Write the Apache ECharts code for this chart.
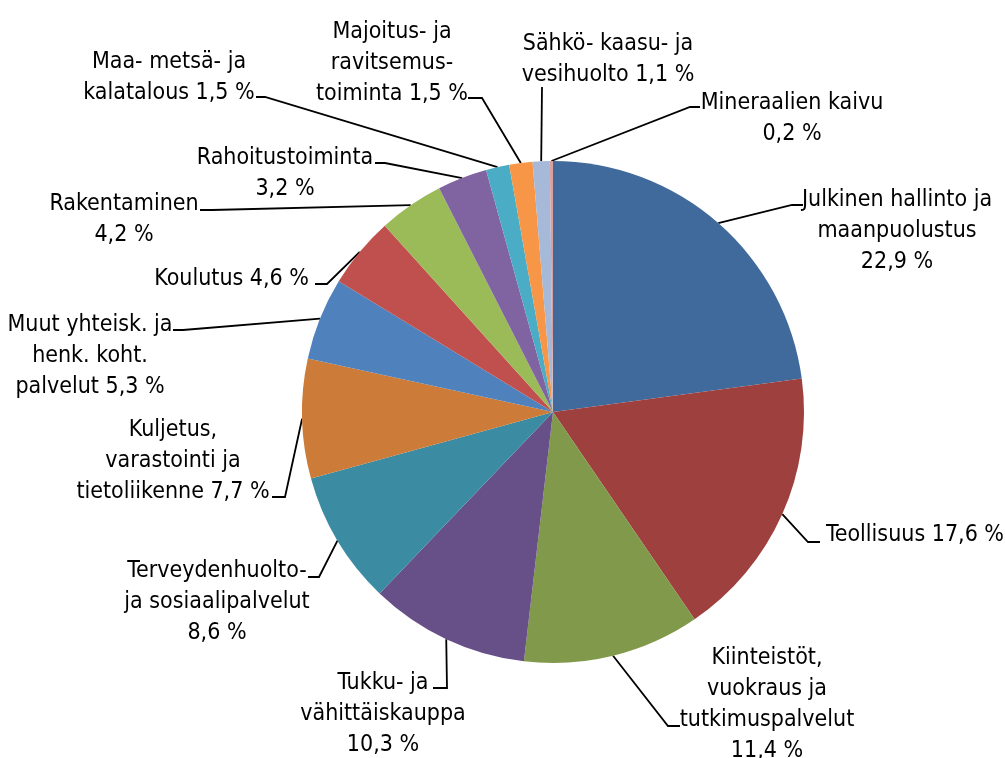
<!DOCTYPE html>
<html>
<head>
<meta charset="utf-8">
<style>
  html, body { margin: 0; padding: 0; background: #fff; }
  #chart { width: 1005px; height: 758px; }
</style>
<script src="https://cdn.jsdelivr.net/npm/echarts@6/dist/echarts.min.js"></script>
</head>
<body>
<div id="chart"></div>
<script>
// toimialat, osuus prosentteina
var categories = ['Julkinen hallinto ja\nmaanpuolustus', 'Teollisuus', 'Kiinteistöt,\nvuokraus ja\ntutkimuspalvelut',
    'Tukku- ja\nvähittäiskauppa', 'Terveydenhuolto-\nja sosiaalipalvelut', 'Kuljetus,\nvarastointi ja\ntietoliikenne',
    'Muut yhteisk. ja\nhenk. koht.\npalvelut', 'Koulutus', 'Rakentaminen', 'Rahoitustoiminta',
    'Maa- metsä- ja\nkalatalous', 'Majoitus- ja\nravitsemus-\ntoiminta', 'Sähkö- kaasu- ja\nvesihuolto', 'Mineraalien kaivu'];
var values = [22.9, 17.6, 11.4, 10.3, 8.6, 7.7, 5.3, 4.6, 4.2, 3.2, 1.5, 1.5, 1.1, 0.2];
var valueOnNewLine = [true, false, true, true, true, false, false, false, true, true, false, false, false, true];

var colors = ['#3F6A9B', '#9D403E', '#80994A', '#674F87', '#3B8BA3', '#CC7B38', '#4F81BD',
    '#C0504D', '#9BBB59', '#8064A2', '#4BACC6', '#F79646', '#A7B9D8', '#D9A0A0'];

// selitteiden paikat ja johtoviivojen taitteet
var labelPos = [
    {x: 897, y: 185, align: 'center', line: [[792, 205], [803, 205]]},
    {x: 826, y: 520, align: 'left', line: [[808, 542], [820, 542]]},
    {x: 767, y: 643, align: 'center', line: [[668, 726], [680, 726]]},
    {x: 383, y: 668, align: 'center', line: [[447, 688], [433, 688]]},
    {x: 217, y: 556, align: 'center', line: [[319, 577], [308, 577]]},
    {x: 173, y: 415, align: 'center', line: [[285, 497], [272, 497]]},
    {x: 90, y: 310, align: 'center', line: [[183, 330], [173, 330]]},
    {x: 309, y: 264, align: 'right', line: [[327, 284], [315, 284]]},
    {x: 124, y: 189, align: 'center', line: [[212, 210], [200, 210]]},
    {x: 285, y: 143, align: 'center', line: [[385, 163], [375, 163]]},
    {x: 169, y: 47, align: 'center', line: [[265, 97], [256, 97]]},
    {x: 392, y: 17, align: 'center', line: [[482, 98], [468, 98]]},
    {x: 608, y: 29, align: 'center', line: [[542, 87], [542, 87]]},
    {x: 792, y: 88, align: 'center', line: [[690, 107], [700, 107]]}
];

var pieData = categories.map(function (name, i) {
    return {name: name, value: values[i], itemStyle: {color: colors[i]}};
});

var option = {
    animation: false,
    series: [
        {
            type: 'pie',
            center: [553, 412],
            radius: 251,
            startAngle: 90,
            clockwise: true,
            avoidLabelOverlap: false,
            itemStyle: {borderWidth: 0},
            emphasis: {disabled: true},
            label: {
                show: true,
                position: 'outside',
                color: '#000',
                fontFamily: '"DejaVu Sans Condensed", "Liberation Sans Narrow", sans-serif',
                fontSize: 23,
                lineHeight: 31,
                formatter: function (p) {
                    var v = values[p.dataIndex].toFixed(1).replace('.', ',') + ' %';
                    return p.name + (valueOnNewLine[p.dataIndex] ? '\n' : ' ') + v;
                }
            },
            labelLine: {
                show: true,
                lineStyle: {color: '#000', width: 1.8}
            },
            labelLayout: function (params) {
                var pos = labelPos[params.dataIndex];
                var start = params.labelLinePoints[0];
                return {
                    x: pos.x,
                    y: pos.y,
                    align: pos.align,
                    verticalAlign: 'top',
                    labelLinePoints: [start, pos.line[0], pos.line[1]]
                };
            },
            data: pieData
        }
    ]
};

window.onload = function () {
    var myChart = echarts.init(document.getElementById('chart'));
    myChart.setOption(option);
};
</script>
</body>
</html>
